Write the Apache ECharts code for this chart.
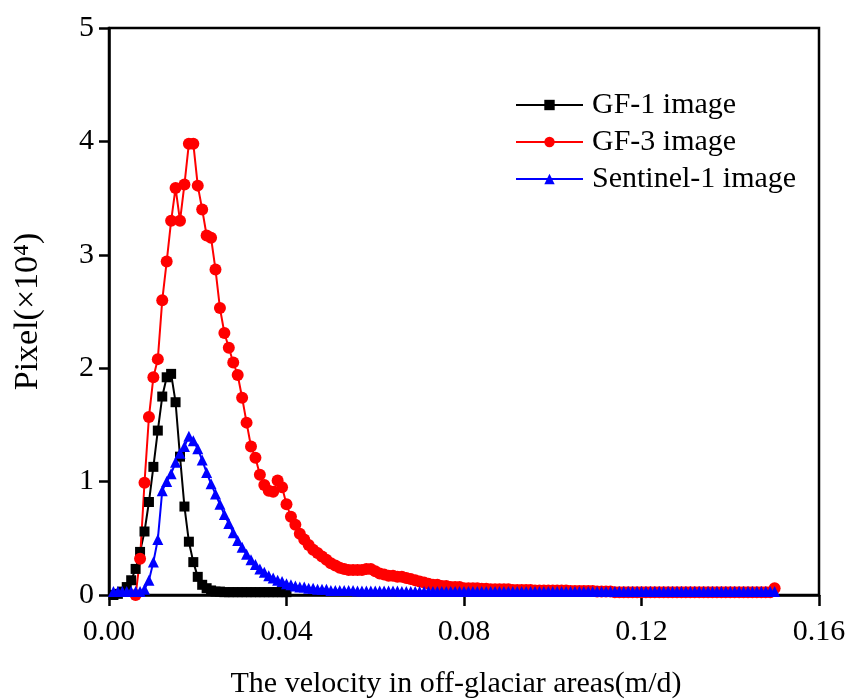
<!DOCTYPE html>
<html>
<head>
<meta charset="utf-8">
<script src="https://cdn.jsdelivr.net/npm/echarts@6/dist/echarts.min.js"></script>
<style>
html,body{margin:0;padding:0;background:#fff;}
#chart{width:846px;height:700px;}
</style>
</head>
<body>
<div id="chart"></div>
<script>
// velocity bins (m/d)
const velocity = [
0.001,0.002,0.003,0.004,0.005,0.006,0.007,0.008,0.009,0.010,
0.011,0.012,0.013,0.014,0.015,0.016,0.017,0.018,0.019,0.020,
0.021,0.022,0.023,0.024,0.025,0.026,0.027,0.028,0.029,0.030,
0.031,0.032,0.033,0.034,0.035,0.036,0.037,0.038,0.039,0.040,
0.041,0.042,0.043,0.044,0.045,0.046,0.047,0.048,0.049,0.050,
0.051,0.052,0.053,0.054,0.055,0.056,0.057,0.058,0.059,0.060,
0.061,0.062,0.063,0.064,0.065,0.066,0.067,0.068,0.069,0.070,
0.071,0.072,0.073,0.074,0.075,0.076,0.077,0.078,0.079,0.080,
0.081,0.082,0.083,0.084,0.085,0.086,0.087,0.088,0.089,0.090,
0.091,0.092,0.093,0.094,0.095,0.096,0.097,0.098,0.099,0.100,
0.101,0.102,0.103,0.104,0.105,0.106,0.107,0.108,0.109,0.110,
0.111,0.112,0.113,0.114,0.115,0.116,0.117,0.118,0.119,0.120,
0.121,0.122,0.123,0.124,0.125,0.126,0.127,0.128,0.129,0.130,
0.131,0.132,0.133,0.134,0.135,0.136,0.137,0.138,0.139,0.140,
0.141,0.142,0.143,0.144,0.145,0.146,0.147,0.148,0.149,0.150
];

// Pixel counts (x10^4); GF-1 covers 0.001-0.040 only
const gf1 = [
0.00,0.01,0.03,0.07,0.13,0.23,0.38,0.56,0.82,1.13,
1.45,1.75,1.92,1.95,1.70,1.22,0.78,0.47,0.29,0.16,
0.09,0.06,0.04,0.03,0.03,0.025,0.025,0.025,0.025,0.025,
0.025,0.025,0.025,0.025,0.025,0.025,0.025,0.025,0.025,0.025
];

// GF-3 starts at 0.006
const gf3 = [
null,null,null,null,null,0.00,0.32,0.99,1.57,1.92,
2.08,2.60,2.94,3.30,3.59,3.30,3.62,3.98,3.98,3.61,
3.40,3.17,3.15,2.87,2.53,2.31,2.18,2.05,1.94,1.74,
1.52,1.31,1.21,1.06,0.97,0.92,0.91,1.01,0.95,0.80,
0.69,0.62,0.54,0.49,0.44,0.40,0.37,0.34,0.31,0.28,
0.26,0.24,0.23,0.22,0.22,0.22,0.22,0.23,0.23,0.21,
0.19,0.18,0.17,0.17,0.16,0.16,0.15,0.14,0.13,0.12,
0.11,0.10,0.09,0.09,0.08,0.08,0.07,0.07,0.07,0.06,
0.06,0.06,0.06,0.055,0.055,0.05,0.05,0.05,0.05,0.05,
0.045,0.045,0.045,0.045,0.045,0.04,0.04,0.04,0.04,0.04,
0.04,0.04,0.04,0.035,0.035,0.035,0.035,0.035,0.035,0.03,
0.03,0.03,0.03,0.025,0.025,0.025,0.025,0.025,0.025,0.025,
0.025,0.025,0.025,0.025,0.025,0.025,0.025,0.025,0.025,0.025,
0.025,0.025,0.025,0.025,0.025,0.025,0.025,0.025,0.025,0.025,
0.025,0.025,0.025,0.025,0.025,0.025,0.025,0.025,0.025,0.06
];

const sentinel1 = [
0.03,0.03,0.03,0.03,0.03,0.03,0.03,0.05,0.13,0.29,
0.49,0.92,1.00,1.07,1.17,1.25,1.31,1.40,1.36,1.29,
1.19,1.08,0.98,0.89,0.80,0.71,0.63,0.55,0.48,0.42,
0.36,0.31,0.27,0.23,0.20,0.17,0.15,0.13,0.12,0.10,
0.09,0.08,0.07,0.07,0.06,0.06,0.05,0.05,0.05,0.04,
0.04,0.04,0.04,0.04,0.04,0.035,0.035,0.035,0.035,0.035,
0.035,0.035,0.035,0.035,0.035,0.03,0.03,0.03,0.03,0.03,
0.03,0.03,0.03,0.03,0.03,0.03,0.03,0.03,0.03,0.03,
0.03,0.03,0.03,0.03,0.03,0.03,0.03,0.03,0.03,0.03,
0.03,0.03,0.03,0.03,0.03,0.03,0.03,0.03,0.03,0.03,
0.03,0.03,0.03,0.03,0.03,0.03,0.03,0.03,0.03,0.03,
0.03,0.03,0.03,0.03,0.03,0.03,0.03,0.03,0.03,0.03,
0.03,0.03,0.03,0.03,0.03,0.03,0.03,0.03,0.03,0.03,
0.03,0.03,0.03,0.03,0.03,0.03,0.03,0.03,0.03,0.03,
0.03,0.03,0.03,0.03,0.03,0.03,0.03,0.03,0.03,0.03
];

const seriesNames = ['GF-1 image', 'GF-3 image', 'Sentinel-1 image'];
const xTicks = [0.00, 0.04, 0.08, 0.12, 0.16];
const yTicks = [0, 1, 2, 3, 4, 5];

const FONT = "'Liberation Serif', 'Times New Roman', serif";
function pairs(ys){ return ys.map((y,i)=>[velocity[i], y]); }

const chart = echarts.init(document.getElementById('chart'), null, {renderer:'canvas'});
chart.setOption({
  animation: false,
  backgroundColor: '#fff',
  textStyle: {fontFamily: FONT, color: '#000'},
  grid: {left: 109, right: 27, top: 28, bottom: 105, containLabel: false, outerBoundsMode: 'none',
         show: true, borderColor: '#000', borderWidth: 2.5, backgroundColor: 'transparent'},
  legend: {
    orient: 'vertical', left: 515, top: 90, padding: 0,
    itemWidth: 67, itemHeight: 13, itemGap: 7,
    textStyle: {fontFamily: FONT, fontSize: 30, color: '#000', padding: [0, 0, 0, 4]},
    data: seriesNames
  },
  xAxis: {
    type: 'value', min: xTicks[0], max: xTicks[xTicks.length-1], interval: 0.04,
    name: 'The velocity in off-glaciar areas(m/d)', nameLocation: 'middle', nameGap: 74,
    nameTextStyle: {fontFamily: FONT, fontSize: 30, color: '#000', padding: [0, 16, 0, 0]},
    axisLine: {show: true, onZero: false, lineStyle: {color: '#000', width: 2.5}},
    axisTick: {show: true, inside: false, length: 11, lineStyle: {color: '#000', width: 2.5}},
    axisLabel: {fontFamily: FONT, fontSize: 30, color: '#000', margin: 22, formatter: v => v.toFixed(2)},
    splitLine: {show: false}
  },
  yAxis: {
    type: 'value', min: yTicks[0], max: yTicks[yTicks.length-1], interval: 1,
    name: 'Pixel(×10⁴)', nameLocation: 'middle', nameGap: 64, nameRotate: 90,
    nameTextStyle: {fontFamily: FONT, fontSize: 34, color: '#000'},
    axisLine: {show: true, onZero: false, lineStyle: {color: '#000', width: 2.5}},
    axisTick: {show: true, inside: false, length: 10, lineStyle: {color: '#000', width: 2.5}},
    axisLabel: {fontFamily: FONT, fontSize: 30, color: '#000', margin: 15},
    splitLine: {show: false}
  },
  series: [
    {name: seriesNames[0], type: 'line', data: pairs(gf1), symbol: 'rect', symbolSize: 10,
     lineStyle: {color: '#000', width: 2}, itemStyle: {color: '#000'}},
    {name: seriesNames[1], type: 'line', data: pairs(gf3), symbol: 'circle', symbolSize: 12,
     lineStyle: {color: '#ff0000', width: 2}, itemStyle: {color: '#ff0000'}},
    {name: seriesNames[2], type: 'line', data: pairs(sentinel1), symbol: 'triangle', symbolSize: 11,
     lineStyle: {color: '#0000ff', width: 2}, itemStyle: {color: '#0000ff'}}
  ]
});
</script>
</body>
</html>
